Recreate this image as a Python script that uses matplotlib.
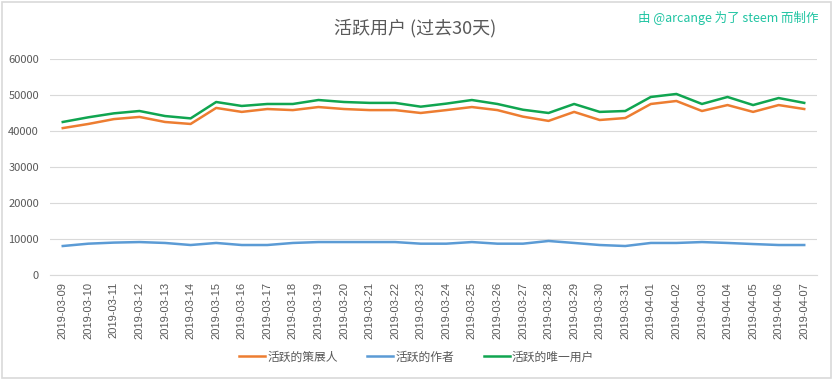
import matplotlib.pyplot as plt
from matplotlib.patches import Rectangle

plt.rcParams['font.family'] = ['Noto Sans CJK SC', 'DejaVu Sans']

# 数据
dates = ['2019-03-09', '2019-03-10', '2019-03-11', '2019-03-12', '2019-03-13',
         '2019-03-14', '2019-03-15', '2019-03-16', '2019-03-17', '2019-03-18',
         '2019-03-19', '2019-03-20', '2019-03-21', '2019-03-22', '2019-03-23',
         '2019-03-24', '2019-03-25', '2019-03-26', '2019-03-27', '2019-03-28',
         '2019-03-29', '2019-03-30', '2019-03-31', '2019-04-01', '2019-04-02',
         '2019-04-03', '2019-04-04', '2019-04-05', '2019-04-06', '2019-04-07']
curators = [40800, 41950, 43300, 43900, 42500, 41950, 46400, 45300, 46100, 45800,
            46650, 46100, 45800, 45800, 45000, 45800, 46650, 45800, 43980, 42800,
            45300, 43050, 43600, 47500, 48330, 45550, 47200, 45300, 47200, 46100]
authors = [8050, 8700, 9000, 9150, 8900, 8330, 8900, 8330, 8330, 8900,
           9150, 9150, 9150, 9150, 8700, 8700, 9150, 8700, 8700, 9450,
           8900, 8330, 8050, 8900, 8900, 9150, 8900, 8600, 8330, 8330]
unique_users = [42500, 43800, 44900, 45550, 44150, 43500, 48050, 46950, 47500, 47500,
                48600, 48050, 47800, 47800, 46750, 47600, 48600, 47500, 45900, 45000,
                47500, 45300, 45550, 49450, 50280, 47500, 49450, 47200, 49150, 47800]

gray = '#595959'
x = range(len(dates))

fig = plt.figure(figsize=(8.33, 3.79), dpi=100)
ax = fig.add_axes([0.06, 0.2744, 0.9208, 0.57])

ax.plot(x, curators, color='#ED7D31', lw=1.8, label='活跃的策展人')
ax.plot(x, authors, color='#5B9BD5', lw=1.8, label='活跃的作者')
ax.plot(x, unique_users, color='#10A550', lw=1.8, label='活跃的唯一用户')

ax.set_xlim(-0.5, len(dates) - 0.5)
ax.set_ylim(0, 60000)
ax.set_yticks(range(0, 60001, 10000))
ax.set_xticks(list(x))
ax.set_xticklabels(dates, rotation=90, fontsize=8, color=gray,
                   family=['Liberation Sans'])
ax.tick_params(axis='y', labelsize=8, colors=gray, length=0, pad=8)
ax.tick_params(axis='x', length=0, pad=5)
ax.grid(axis='y', color='#D9D9D9', lw=0.8)
ax.set_axisbelow(True)
for s in ['top', 'right', 'left']:
    ax.spines[s].set_visible(False)
ax.spines['bottom'].set_color('#D9D9D9')

fig.text(0.498, 0.925, '活跃用户 (过去30天)', ha='center', va='center',
         fontsize=13, color=gray)
fig.text(0.982, 0.952, '由 @arcange 为了 steem 而制作', ha='right', va='center',
         fontsize=9, color='#20C4A2')

fig.legend(loc='center', bbox_to_anchor=(0.5, 0.058), ncol=3, frameon=False,
           fontsize=8.5, labelcolor=gray, handlelength=2.2, columnspacing=2.5,
           handletextpad=0.2)

fig.patches.append(Rectangle((0.002, 0.003), 0.995, 0.993, transform=fig.transFigure,
                             fill=False, edgecolor='#D9D9D9', lw=1.2))

fig.savefig('out.png', dpi=100)
